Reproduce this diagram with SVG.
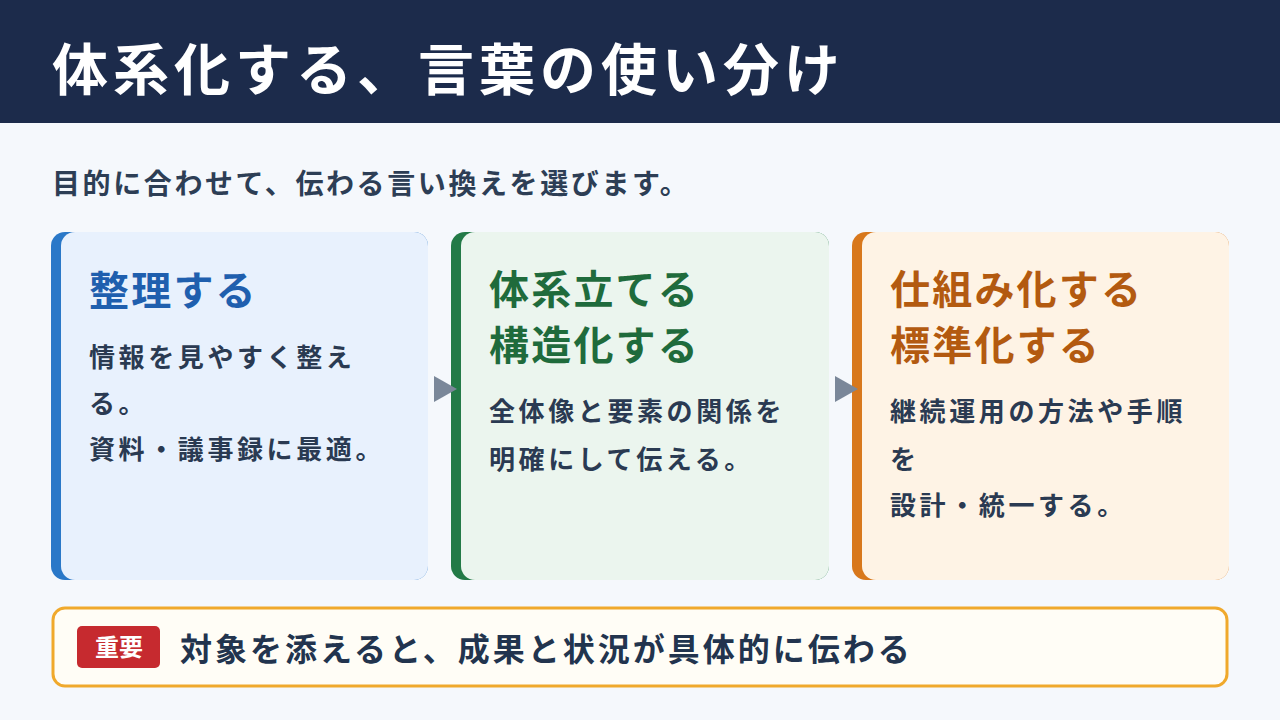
<svg xmlns="http://www.w3.org/2000/svg" width="1280" height="720" viewBox="0 0 1280 720">
<style>
text{font-family:"Noto Sans CJK JP","Noto Sans",sans-serif}
.t{font-weight:700;font-size:40px;letter-spacing:2.2px}
.b{font-weight:600;font-size:26px;letter-spacing:3.6px;fill:#2a3a52}
</style>
<rect width="1280" height="720" fill="#f5f8fc"/>
<rect width="1280" height="123" fill="#1c2b4b"/>
<text x="52" y="90" font-size="56" font-weight="700" letter-spacing="5" fill="#fff">体系化する、言葉の使い分け</text>
<text x="52" y="194" font-size="28" font-weight="600" letter-spacing="2.6" fill="#2d3e55">目的に合わせて、伝わる言い換えを選びます。</text>
<g id="card1">
<rect x="51" y="232" width="377" height="348" rx="14" fill="#2a78c8"/>
<rect x="61" y="232" width="367" height="348" rx="14" fill="#e8f1fd"/>
<text x="89" y="305" class="t" fill="#1f5fae">整理する</text>
<text class="b"><tspan x="89" y="367">情報を見やすく整え</tspan><tspan x="89" y="413">る。</tspan><tspan x="89" y="459">資料・議事録に最適。</tspan></text>
</g>
<g id="card2">
<rect x="451" y="232" width="378" height="348" rx="14" fill="#237a47"/>
<rect x="461" y="232" width="368" height="348" rx="14" fill="#ebf5ee"/>
<text class="t" fill="#1f6b3c"><tspan x="489" y="304">体系立てる</tspan><tspan x="489" y="360">構造化する</tspan></text>
<text class="b"><tspan x="489" y="421">全体像と要素の関係を</tspan><tspan x="489" y="469">明確にして伝える。</tspan></text>
</g>
<g id="card3">
<rect x="852" y="232" width="377" height="348" rx="14" fill="#d8781c"/>
<rect x="862" y="232" width="367" height="348" rx="14" fill="#fef3e5"/>
<text class="t" fill="#b35a10"><tspan x="890" y="304">仕組み化する</tspan><tspan x="890" y="360">標準化する</tspan></text>
<text class="b"><tspan x="890" y="421">継続運用の方法や手順</tspan><tspan x="890" y="469">を</tspan><tspan x="890" y="515">設計・統一する。</tspan></text>
</g>
<g id="connectors" fill="#7a8799">
<polygon points="434,376 457,389 434,402"/>
<polygon points="835,376 858,389 835,402"/>
</g>
<g id="note">
<rect x="53" y="608" width="1174" height="78" rx="12" fill="#fffdf6" stroke="#f0a92c" stroke-width="3"/>
<rect x="77" y="626" width="83" height="42" rx="5" fill="#c62a2f"/>
<text x="119" y="656" text-anchor="middle" font-size="24" font-weight="700" fill="#fff">重要</text>
<text x="180" y="661" font-size="32" font-weight="700" letter-spacing="3" fill="#22344e">対象を添えると、成果と状況が具体的に伝わる</text>
</g>
</svg>
